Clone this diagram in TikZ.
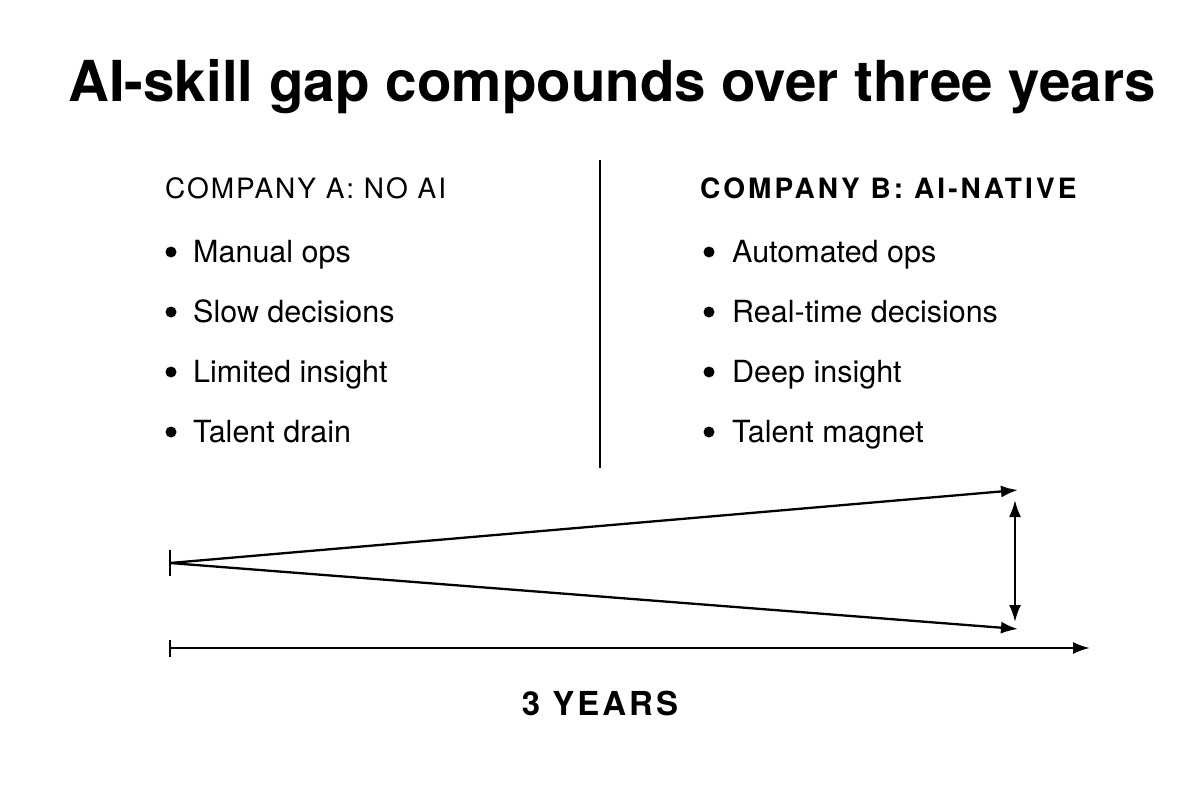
\documentclass[tikz,border=0pt]{standalone}
\usepackage{fontspec}
\setmainfont{TeX Gyre Heros}
\usetikzlibrary{arrows.meta,positioning}

\begin{document}
\begin{tikzpicture}[x=1pt,y=-1pt,
  item/.style={anchor=base west,inner sep=0pt,font=\fontsize{30.5}{35}\selectfont},
  head/.style={anchor=base west,inner sep=0pt,font=\fontsize{28}{32}\selectfont\addfontfeature{LetterSpace=7}},
  gap/.style={line width=2.3pt,-{Latex[length=17pt,width=12pt]}}]
\useasboundingbox (0,0) rectangle (1200,800);
\node[anchor=base,inner sep=0pt,font=\fontsize{56.5}{64}\selectfont\bfseries] (title) at (612,102){AI-skill gap compounds over three years};
% two columns
\draw[line width=1.4pt] (600,160)--(600,468);
\node[head] (headA) at (165,198){COMPANY A: NO AI};
\node[head,font=\fontsize{28}{32}\selectfont\bfseries\addfontfeature{LetterSpace=11}] (headB) at (700,198){COMPANY B: AI-NATIVE};
\foreach \t [count=\i] in {Manual ops,Slow decisions,Limited insight,Talent drain}{
  \fill (171,{202+60*\i-10}) circle (5.5pt);
  \node[item] (a\i) at (193,{202+60*\i}){\t};}
\foreach \t [count=\i] in {Automated ops,Real-time decisions,Deep insight,Talent magnet}{
  \fill (709,{202+60*\i-10}) circle (5.5pt);
  \node[item] (b\i) at (732,{202+60*\i}){\t};}
% widening gap
\coordinate (org) at (170,563);
\coordinate (upper) at (1018,490);
\coordinate (lower) at (1018,629);
\draw[line width=2.3pt] (170,550)--(170,576);
\draw[gap] (org)--(upper);
\draw[gap] (org)--(lower);
\draw[line width=2.3pt,{Latex[length=17pt,width=12pt]}-{Latex[length=17pt,width=12pt]}] (1015,500)--(1015,622);
% time axis
\coordinate (t0) at (170,648);
\coordinate (t1) at (1090,648);
\draw[line width=2.3pt] (170,640)--(170,657);
\draw[gap] (t0)--(t1);
\node[anchor=base,inner sep=0pt,font=\fontsize{33}{38}\selectfont\bfseries\addfontfeature{LetterSpace=9}] (span) at (600,715){3 YEARS};
\end{tikzpicture}
\end{document}
